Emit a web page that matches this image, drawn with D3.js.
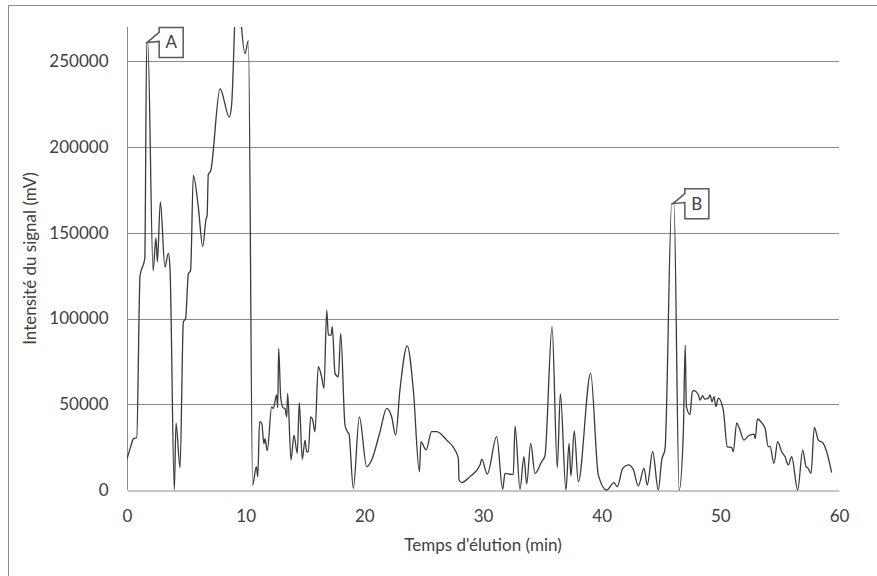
<!DOCTYPE html>
<html>
<head>
<meta charset="utf-8">
<script src="https://cdn.jsdelivr.net/npm/d3@7"></script>
<style>
  body { margin: 0; background: #fff; }
  text { font-family: Lato, "Open Sans", sans-serif; fill: #404040; }
</style>
</head>
<body>
<div id="chart"></div>
<script>
var time = [
  0, 0.3, 0.55, 0.82, 1.1, 1.5, 1.66, 1.75, 2.2, 2.44, 2.56, 2.81, 3.2, 3.48, 3.62, 3.99,
  4.13, 4.47, 4.75, 4.94, 5.17, 5.36, 5.59, 6.01, 6.38, 6.66, 6.75, 6.85, 7.05, 7.84, 8.62,
  8.82, 9.25, 9.94, 10.23, 10.59, 10.9, 11.02, 11.17, 11.35, 11.54, 11.63, 11.82, 12.19,
  12.33, 12.61, 12.7, 12.78, 12.95, 13.15, 13.31, 13.46, 13.54, 13.82, 14.07, 14.35, 14.52,
  14.77, 15.0, 15.14, 15.28, 15.48, 15.65, 15.84, 16.12, 16.4, 16.6, 16.83, 16.97, 17.2,
  17.3, 17.53, 17.81, 18.01, 18.37, 18.57, 18.7, 19.07, 19.58, 20.2, 20.62, 21.32, 21.88,
  22.3, 22.64, 23.0, 23.62, 24.13, 24.64, 24.77, 25.2, 25.67, 26.1, 26.94, 27.64, 27.92,
  27.98, 28.2, 28.9, 29.75, 29.89, 30.36, 31.15, 31.66, 31.85, 32.42, 32.55, 32.7, 33.12,
  33.45, 33.68, 34.02, 34.38, 34.94, 35.22, 35.82, 36.26, 36.52, 36.99, 37.25, 37.41, 37.69,
  38.03, 39.07, 39.72, 40.42, 41.04, 41.32, 41.77, 42.25, 42.66, 43.09, 43.57, 43.84, 44.3,
  44.77, 45.06, 45.34, 45.9, 46.09, 46.53, 46.88, 47.04, 47.14, 47.44, 47.64, 47.78, 48.15,
  48.29, 48.5, 48.7, 48.99, 49.13, 49.3, 49.47, 49.63, 49.83, 50.25, 50.59, 50.95, 51.09,
  51.38, 51.6, 51.99, 52.35, 52.84, 52.94, 53.12, 53.49, 53.77, 54.04, 54.18, 54.52, 54.83,
  55.17, 55.45, 55.73, 56.01, 56.52, 56.94, 57.22, 57.4, 57.64, 57.92, 58.26, 58.67, 58.96,
  59.38
]
var intensity = [
  18000, 25000, 30000, 30500, 125000, 135000, 261000, 261000, 128000, 147000, 133000, 168000,
  130000, 138000, 130000, 0, 39000, 13000, 98000, 100000, 126000, 128000, 183500, 165000,
  142000, 158000, 160000, 184000, 186000, 234000, 217500, 225000, 295000, 254500, 262000,
  2900, 13600, 7800, 39800, 39000, 27000, 30000, 23000, 48500, 47600, 55400, 48000, 82600,
  54400, 48000, 47600, 42700, 56300, 17500, 32000, 21400, 50900, 17900, 29100, 22300, 22300,
  42700, 40800, 34000, 71900, 66000, 59200, 104900, 90300, 90300, 95200, 68000, 66000, 91300,
  37900, 34000, 33000, 1000, 42700, 13600, 17500, 34000, 47600, 42700, 32000, 58300, 84100,
  58300, 10700, 28200, 23300, 34000, 34000, 29100, 23300, 18500, 5800, 4300, 7800, 14600,
  18000, 9300, 31100, 400, 9700, 9100, 9100, 37300, 400, 19400, 3500, 27200, 9700, 16500,
  20000, 95200, 13000, 56000, 0, 27200, 8200, 34400, 4900, 68000, 8700, 0, 4300, 1900, 12600,
  14600, 12000, 2300, 12600, 2900, 22300, 0, 17500, 24000, 167000, 167000, 0, 33000, 84500,
  48600, 44000, 57300, 58000, 55400, 52400, 55000, 53000, 53600, 55400, 51500, 54500, 48600,
  53600, 46600, 25200, 24800, 22300, 39200, 36000, 29100, 31500, 32600, 30000, 41400, 39200,
  36000, 25200, 25600, 15500, 28200, 22300, 19400, 14600, 19400, 0, 23300, 13600, 12600, 9700,
  36500, 29100, 27200, 22300, 10100
]

var xTicks = [0, 10, 20, 30, 40, 50, 60]
var yTicks = [0, 50000, 100000, 150000, 200000, 250000]

// annotations : pic A et pic B
var calloutLabels = ['A', 'B']
var calloutTimes = [1.7, 46.0]
var calloutValues = [261000, 167000]

var data = time.map(function(t, i){ return {time: t, value: intensity[i]} })

var width = 877, height = 576
var margin = {left: 127, right: 38, top: 27, bottom: 86}

var svg = d3.select('#chart').append('svg')
  .attr('width', width)
  .attr('height', height)

// cadre du graphique
svg.append('rect')
  .attr('x', 8.5).attr('y', 5.5)
  .attr('width', 900).attr('height', 600)
  .attr('fill', 'none')
  .attr('stroke', '#8c8c8c')

var x = d3.scaleLinear().domain([0, 60]).range([margin.left, width - margin.right])
var y = d3.scaleLinear().domain([0, 270000]).range([height - margin.bottom, margin.top])

// grille horizontale
svg.append('g')
  .selectAll('line')
  .data(yTicks.slice(1))
  .join('line')
  .attr('x1', x(0)).attr('x2', x(60))
  .attr('y1', function(d){ return Math.round(y(d)) + 0.5 })
  .attr('y2', function(d){ return Math.round(y(d)) + 0.5 })
  .attr('stroke', '#8c8c8c')

var yAxis = svg.append('g')
  .attr('transform', 'translate(' + (x(0) + 0.5) + ',0)')
  .call(d3.axisLeft(y).tickValues(yTicks).tickSize(0).tickPadding(19).tickFormat(d3.format('d')))
yAxis.select('.domain').attr('stroke', '#8c8c8c').attr('d', 'M0,' + y(0) + 'V' + y.range()[1])

var xAxis = svg.append('g')
  .attr('transform', 'translate(0,' + (Math.round(y(0)) + 0.5) + ')')
  .call(d3.axisBottom(x).tickValues(xTicks).tickSize(0).tickPadding(19).tickFormat(d3.format('d')))
xAxis.select('.domain').attr('stroke', '#8c8c8c')

svg.selectAll('.tick text')
  .style('font-family', 'Lato, "Open Sans", sans-serif')
  .style('font-size', '17px')
  .attr('fill', '#404040')

svg.append('text')
  .attr('x', (x(0) + x(60)) / 2)
  .attr('y', 551)
  .attr('text-anchor', 'middle')
  .style('font-size', '17px')
  .text("Temps d'élution (min)")

svg.append('text')
  .attr('transform', 'translate(36,' + ((y(0) + y.range()[1]) / 2) + ') rotate(-90)')
  .attr('text-anchor', 'middle')
  .style('font-size', '17px')
  .text('Intensité du signal (mV)')

svg.append('clipPath').attr('id', 'plot-clip')
  .append('rect')
  .attr('x', x(0)).attr('y', y.range()[1])
  .attr('width', x(60) - x(0)).attr('height', y(0) - y.range()[1] + 2)

var line = d3.line()
  .x(function(d){ return x(d.time) })
  .y(function(d){ return y(d.value) })
  .curve(d3.curveMonotoneX)

svg.append('path')
  .attr('clip-path', 'url(#plot-clip)')
  .attr('d', line(data))
  .attr('fill', 'none')
  .attr('stroke', '#3a3a3a')
  .attr('stroke-width', 1.3)
  .attr('stroke-linejoin', 'round')

// bulles de legende avec pointe vers le pic
var callouts = svg.append('g')
  .selectAll('g')
  .data(calloutLabels)
  .join('g')
  .attr('transform', function(d, i){
    return 'translate(' + x(calloutTimes[i]) + ',' + y(calloutValues[i]) + ')'
  })

callouts.append('path')
  .attr('d', 'M0,0 L12,-10 V-15 H36 V15 H12 V-1 Z')
  .attr('fill', '#fff')
  .attr('stroke', '#595959')
  .attr('stroke-width', 1.5)

callouts.append('text')
  .attr('x', 24).attr('y', 0)
  .attr('dy', '0.35em')
  .attr('text-anchor', 'middle')
  .style('font-size', '17px')
  .text(function(d){ return d })
</script>
</body>
</html>
